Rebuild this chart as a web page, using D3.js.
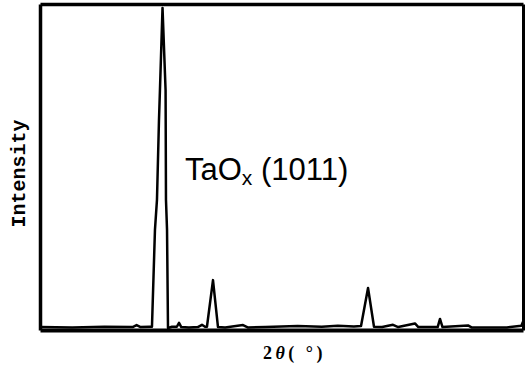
<!DOCTYPE html>
<html>
<head>
<meta charset="utf-8">
<script src="https://cdn.jsdelivr.net/npm/d3@7/dist/d3.min.js"></script>
<style>
  body { margin: 0; background: #fff; }
  svg { display: block; }
</style>
</head>
<body>
<svg id="chart" width="527" height="367"></svg>
<script>
// 2θ (degrees) and relative intensity
const twoTheta = [20, 24.0, 28.0, 31.5, 32.0, 32.5, 33.6, 33.91, 34.28, 34.53, 34.78, 34.9, 35.22, 35.6, 35.65, 35.78, 35.9,
  36.4, 37.0, 37.27, 37.55, 38.5, 39.6, 40.12, 40.5, 40.74, 41.49, 42.11, 43.0, 45.22, 45.8, 48, 52, 55, 57, 59,
  59.88, 60.75, 61.49, 62.5, 63.85, 64.5, 66.58, 67, 69.4, 69.69, 70.0, 73.17, 73.6, 78, 79.8, 80];
const intensity = [0.9, 0.8, 1.0, 0.9, 1.5, 0.9, 1.0, 1.0, 30.7, 39.9, 64.4, 73.6, 98.8, 73.6, 39.9, 30.7, 0.6,
  1.0, 1.0, 2.2, 0.9, 0.8, 0.9, 1.6, 1.0, 1.0, 15.3, 0.9, 0.8, 1.5, 0.8, 0.9, 1.2, 1.0, 1.3, 1.1,
  1.2, 12.9, 1.0, 0.9, 1.6, 0.9, 2.0, 0.9, 0.9, 3.4, 0.9, 1.4, 0.8, 0.8, 1.3, 2.5];
const xDomain = [20, 80];
const yDomain = [0, 100];
const peakLabel = "TaO";
const peakLabelSub = "x";
const peakLabelRest = " (1011)";
const xLabelParts = ["2", "θ", "( °)"];
const yLabel = "Intensity";

const svg = d3.select("#chart");
const m = {left: 40, top: 4, right: 523, bottom: 330};

const x = d3.scaleLinear().domain(xDomain).range([m.left, m.right]);
const y = d3.scaleLinear().domain(yDomain).range([m.bottom, m.top]);

const data = twoTheta.map((t, i) => ({t, v: intensity[i]}));

// data curve
svg.append("path")
  .datum(data)
  .attr("fill", "none")
  .attr("stroke", "#000")
  .attr("stroke-width", 2.5)
  .attr("stroke-linejoin", "round")
  .attr("d", d3.line().x(d => x(d.t)).y(d => y(d.v)));

// frame via axes without ticks
const axB = d3.axisBottom(x).tickValues([]).tickSizeOuter(0);
const axT = d3.axisTop(x).tickValues([]).tickSizeOuter(0);
const axL = d3.axisLeft(y).tickValues([]).tickSizeOuter(0);
const axR = d3.axisRight(y).tickValues([]).tickSizeOuter(0);
function styleAx(g, w) { g.select(".domain").attr("stroke", "#000").attr("stroke-width", w); }
svg.append("g").attr("transform", `translate(0,${m.bottom})`).call(axB).call(g => styleAx(g, 4));
svg.append("g").attr("transform", `translate(0,${m.top})`).call(axT).call(g => styleAx(g, 3.5));
svg.append("g").attr("transform", `translate(${m.left},0)`).call(axL).call(g => styleAx(g, 3.5));
svg.append("g").attr("transform", `translate(${m.right},0)`).call(axR).call(g => styleAx(g, 3));

// peak annotation
const lab = svg.append("text")
  .attr("x", 185).attr("y", 180)
  .attr("font-family", "'Liberation Sans', Arial, sans-serif")
  .attr("font-size", 31)
  .attr("fill", "#000");
lab.append("tspan").text(peakLabel);
lab.append("tspan").attr("font-size", 21).attr("dy", 5).text(peakLabelSub);
lab.append("tspan").attr("dy", -5).text(peakLabelRest);

// axis labels
const xl = svg.append("text")
  .attr("x", 263).attr("y", 359)
  .attr("font-family", "'Liberation Serif', 'Times New Roman', serif")
  .attr("font-weight", "bold")
  .attr("font-size", 18)
  .attr("letter-spacing", 3.5)
  .attr("xml:space", "preserve");
xl.append("tspan").text(xLabelParts[0]);
xl.append("tspan").attr("font-style", "italic").text(xLabelParts[1]);
xl.append("tspan").text(xLabelParts[2]);

svg.append("text")
  .attr("transform", "translate(25,173.5) rotate(-90)")
  .attr("text-anchor", "middle")
  .attr("font-family", "'Liberation Mono', 'Courier New', monospace")
  .attr("font-weight", "bold")
  .attr("font-size", 20)
  .text(yLabel);
</script>
</body>
</html>
